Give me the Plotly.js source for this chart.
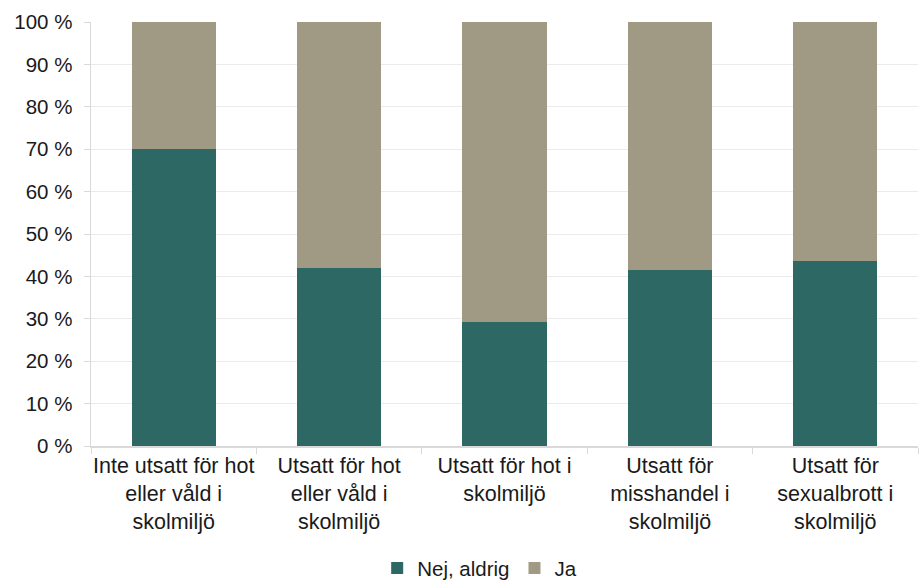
<!DOCTYPE html>
<html><head><meta charset="utf-8">
<script src="https://cdn.plot.ly/plotly-3.0.1.min.js"></script>
<style>body{margin:0;background:#fff}#c{width:921px;height:584px}</style>
</head><body><div id="c"></div>
<script>
const categories = ["Inte utsatt för hot<br>eller våld i<br>skolmiljö","Utsatt för hot<br>eller våld i<br>skolmiljö","Utsatt för hot i<br>skolmiljö","Utsatt för<br>misshandel i<br>skolmiljö","Utsatt för<br>sexualbrott i<br>skolmiljö"];
const nejAldrig = [70.0, 42.1, 29.3, 41.6, 43.6];
const ja = [30.0, 57.9, 70.7, 58.4, 56.4];
const yTickVals = [0,10,20,30,40,50,60,70,80,90,100];
const yTickText = yTickVals.map(v => v + " %");

const fam = "Liberation Sans, Arial, sans-serif";
const font = {family: fam, size: 20.5, color: "#1a1a1a"};
const xfont = {family: fam, size: 21.5, color: "#1a1a1a"};
const traces = [
  {type:"bar", name:"Nej, aldrig", x:categories, y:nejAldrig, marker:{color:"#2D6864", line:{width:0}}},
  {type:"bar", name:"Ja", x:categories, y:ja, marker:{color:"#A09A84", line:{width:0}}}
];
const layout = {
  width:921, height:584, barmode:"stack", bargap:0.49,
  margin:{l:91, r:3, t:22, b:138},
  paper_bgcolor:"#fff", plot_bgcolor:"#fff", font:font,
  xaxis:{type:"category", showline:true, linecolor:"#d9d9d9", linewidth:1.5, ticks:"outside", tickson:"boundaries", ticklen:6, tickcolor:"#d9d9d9", tickfont:xfont, tickangle:0, showgrid:false, automargin:false},
  yaxis:{range:[0,100], tickvals:yTickVals, ticktext:yTickText, showline:true, linecolor:"#d9d9d9", linewidth:1.5, ticks:"outside", ticklen:6, tickcolor:"#d9d9d9", gridcolor:"#ebebeb", gridwidth:1, tickfont:font, zeroline:false, ticklabelstandoff:7, automargin:false},
  legend:{orientation:"h", x:0.47, xanchor:"center", yref:"container", y:0.027, yanchor:"middle", font:font, traceorder:"normal", itemwidth:30},
  showlegend:true
};
Plotly.newPlot("c", traces, layout, {displayModeBar:false, staticPlot:true});
</script></body></html>
